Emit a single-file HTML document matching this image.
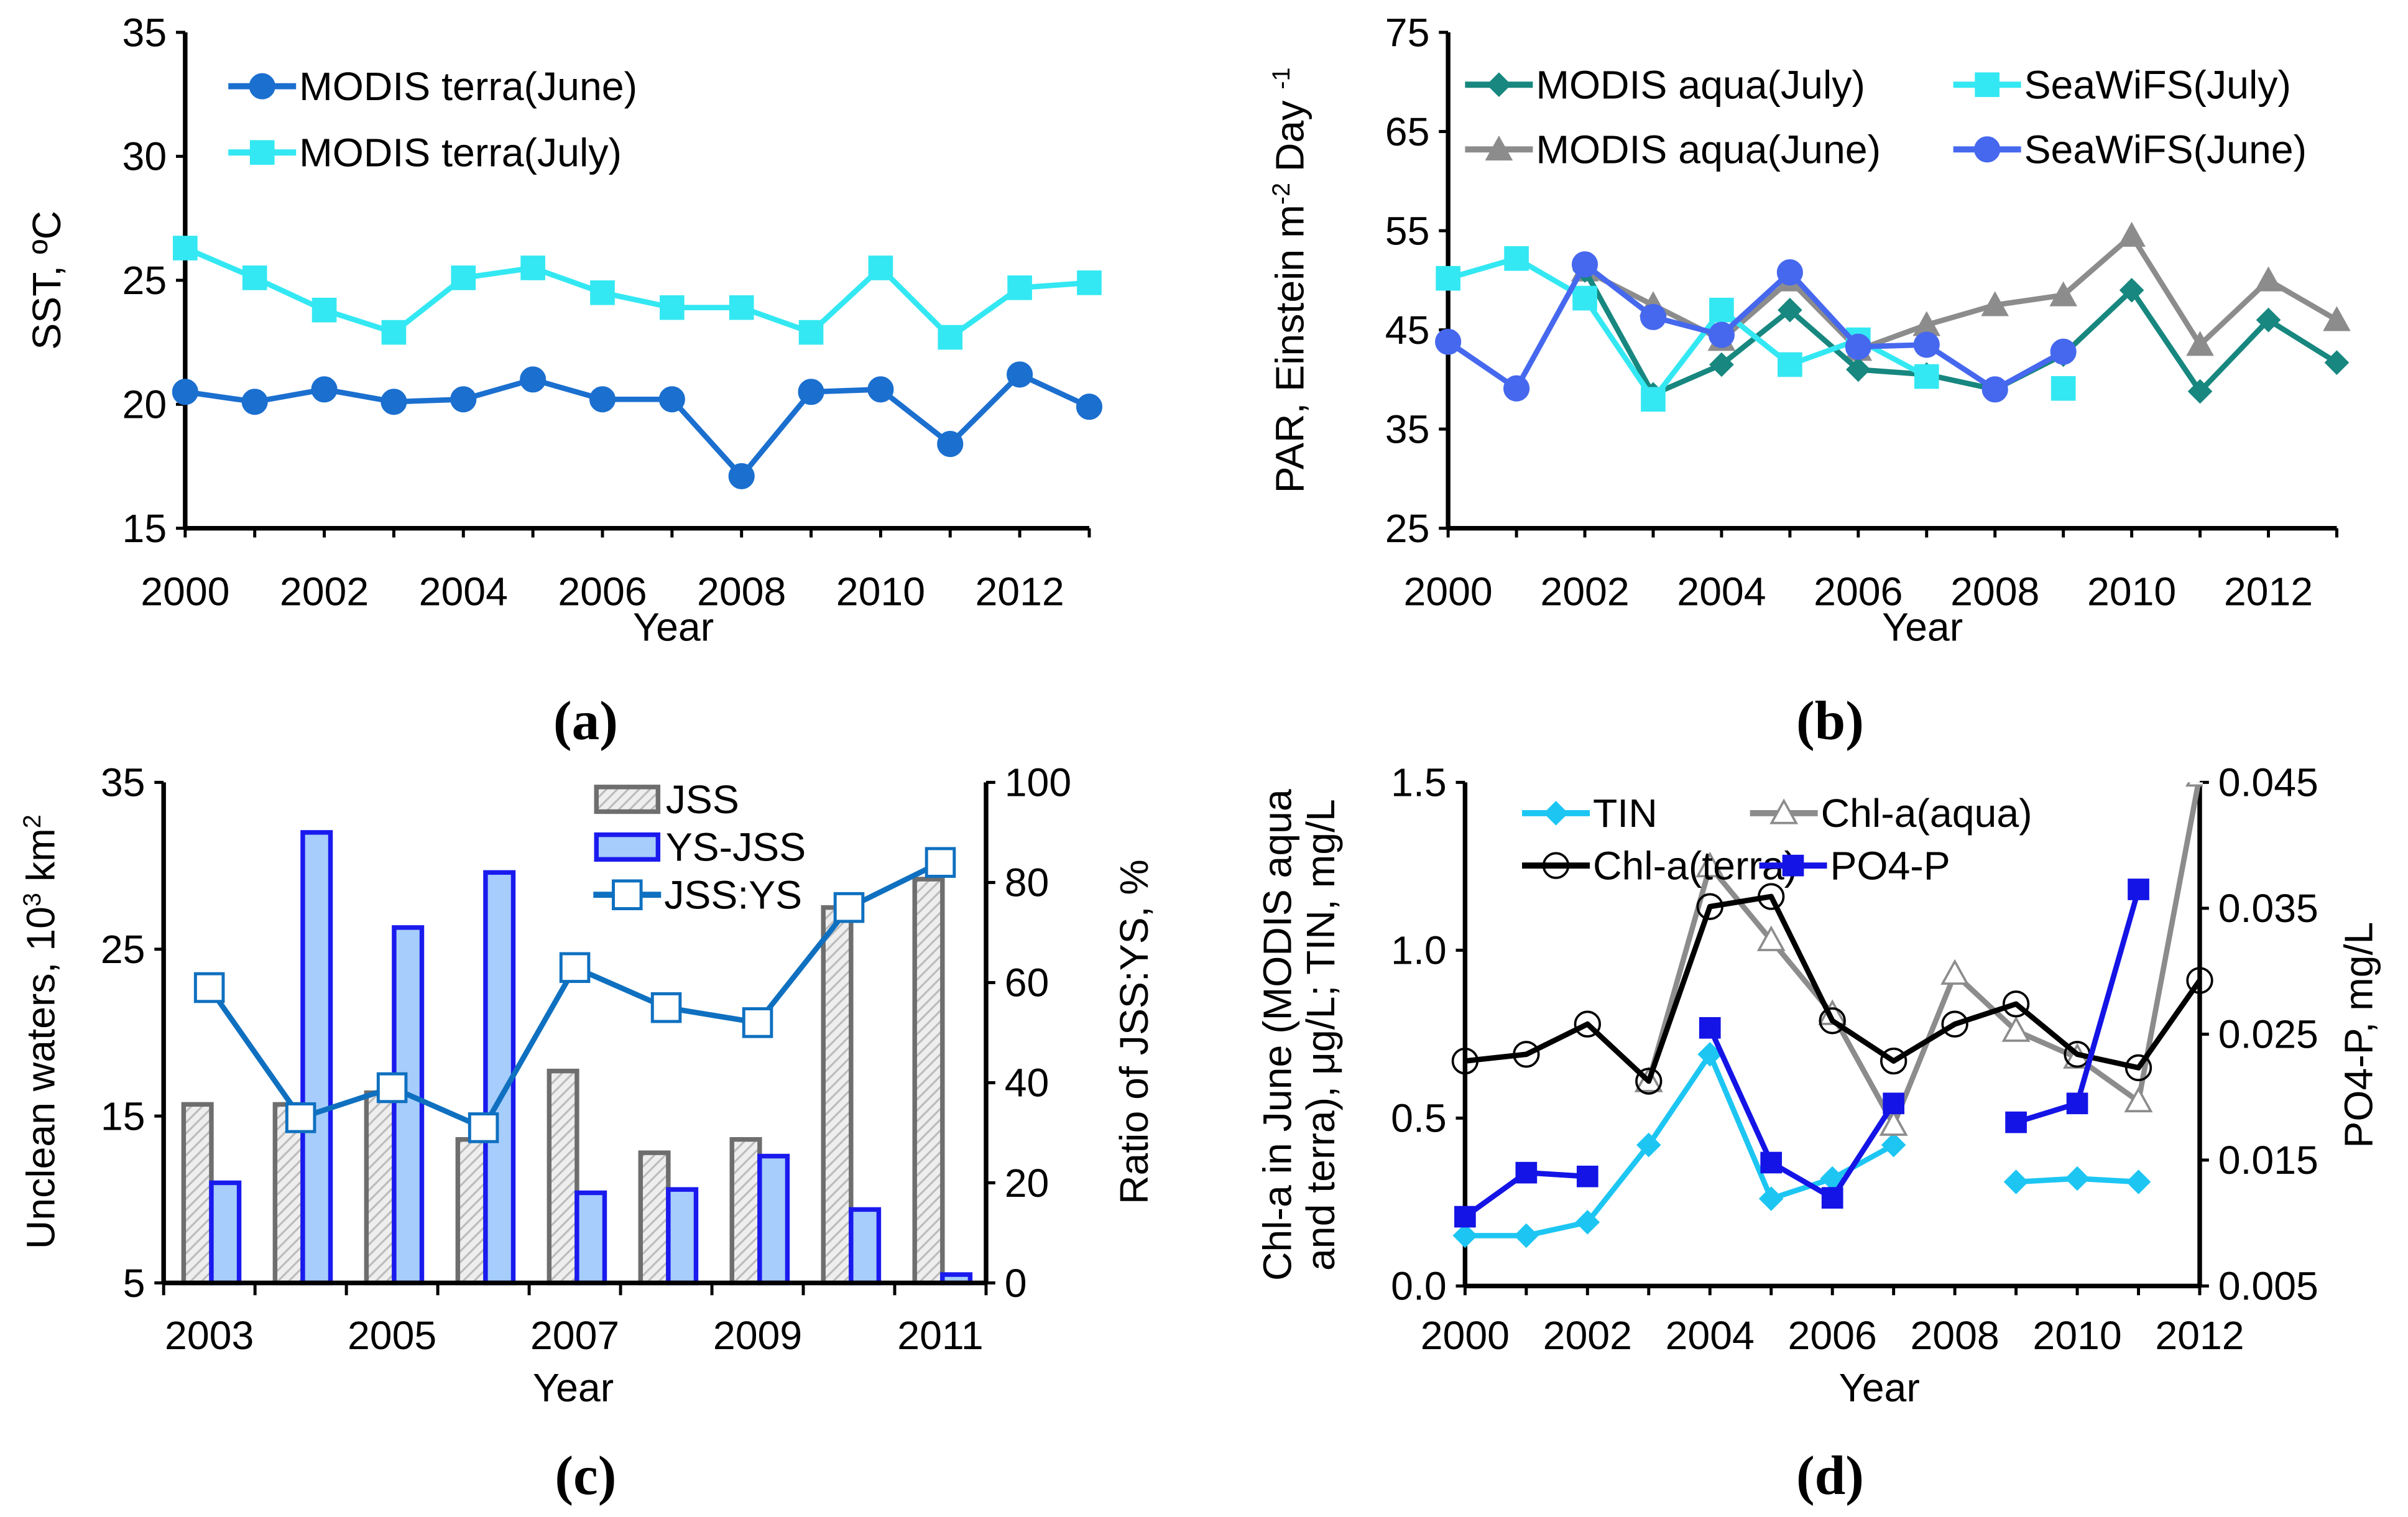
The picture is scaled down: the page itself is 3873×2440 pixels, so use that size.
<!DOCTYPE html>
<html><head><meta charset="utf-8"><style>html,body{margin:0;padding:0;background:#fff}svg{display:block}text{font-family:"Liberation Sans",sans-serif}</style></head>
<body>
<svg id="s" width="3873" height="2440" viewBox="0 0 1563 985" xmlns="http://www.w3.org/2000/svg">
<defs><pattern id="hatch" width="5" height="5" patternUnits="userSpaceOnUse" patternTransform="rotate(45)"><rect width="5" height="5" fill="#eee"/><line x1="0" y1="0" x2="0" y2="5" stroke="#bbb" stroke-width="2.5"/></pattern></defs>
</svg>
<script>
// ---- data panel a
const aYears=[2000,2001,2002,2003,2004,2005,2006,2007,2008,2009,2010,2011,2012,2013];
const sstJune=[20.5,20.1,20.6,20.1,20.2,21.0,20.2,20.2,17.1,20.5,20.6,18.4,21.2,19.9];
const sstJuly=[26.3,25.1,23.8,22.9,25.1,25.5,24.5,23.9,23.9,22.9,25.5,22.7,24.7,24.9];
const aYTicks=[15,20,25,30,35];
const xTickLabels=[2000,2002,2004,2006,2008,2010,2012];
// ---- data panel b
const parAquaJuly=[null,null,51,38.5,41.5,47,41,40.5,39,42.5,49,38.8,46,41.7];
const parAquaJune=[null,null,51,47.5,44,50,43,45.5,47.5,48.5,54.5,43.5,50,46];
const parSeaJuly=[50.2,52.2,48.2,38,47,41.5,44,40.3,null,39.1,null,null,null,null];
const parSeaJune=[43.8,39.1,51.6,46.3,44.5,50.8,43.3,43.5,39,42.8,null,null,null,null];
const bYTicks=[25,35,45,55,65,75];
// ---- data panel c
const cYears=[2003,2004,2005,2006,2007,2008,2009,2010,2011];
const jss=[15.7,15.7,16.4,13.6,17.7,12.8,13.6,27.5,29.2];
const ysjss=[11.0,32.0,26.3,29.6,10.4,10.6,12.6,9.4,5.5];
const ratio=[59,33,39,31,63,55,52,75,84];
const cYTicks=[5,15,25,35];
const cY2Ticks=[0,20,40,60,80,100];
const cXLabels=[2003,2005,2007,2009,2011];
// ---- data panel d
const dYears=[2000,2001,2002,2003,2004,2005,2006,2007,2008,2009,2010,2011,2012];
const tin=[0.15,0.15,0.19,0.42,0.69,0.26,0.32,0.42,null,0.31,0.32,0.31,null];
const chlAqua=[null,null,null,0.61,1.25,1.03,0.81,0.48,0.93,0.76,0.68,0.55,1.52];
const chlTerra=[0.67,0.69,0.78,0.61,1.13,1.16,0.79,0.67,0.78,0.84,0.69,0.65,0.91];
const po4=[0.0105,0.014,0.0137,null,0.0255,0.0148,0.012,0.0195,null,0.018,0.0195,0.0365,null];
const dYTicks=["0.0","0.5","1.0","1.5"];
const dY2Ticks=["0.005","0.015","0.025","0.035","0.045"];

const S=document.getElementById('s');const NS='http://www.w3.org/2000/svg';
const FS=26;
function mk(t,a,p){const e=document.createElementNS(NS,t);for(const k in a)e.setAttribute(k,a[k]);(p||S).appendChild(e);return e;}
function txt(x,y,s,a,name){const e=mk('text',Object.assign({x:x,y:y,'font-size':FS,fill:'#000'},a||{}));e.textContent=s;

return e;}
function plabel(x,y,s,name){const e=txt(x,y,s,{'text-anchor':'middle','font-size':36,'font-weight':'bold',style:'font-family:"Liberation Serif",serif'},name);return e;}
function grp(name){const g=mk('g',{});

return g;}
function marker(g,type,x,y,color,sz){
 let e;
 if(type==='circle')e=mk('circle',{cx:x,cy:y,r:sz,fill:color,stroke:color,'stroke-width':1},g);
 else if(type==='ocircle')e=mk('circle',{cx:x,cy:y,r:sz,fill:'none',stroke:'#000','stroke-width':1.5},g);
 else if(type==='square')e=mk('rect',{x:x-sz,y:y-sz,width:2*sz,height:2*sz,fill:color},g);
 else if(type==='osquare')e=mk('rect',{x:x-sz,y:y-sz,width:2*sz,height:2*sz,fill:'#fff',stroke:color,'stroke-width':2},g);
 else if(type==='diamond')e=mk('polygon',{points:`${x},${y-sz} ${x+sz},${y} ${x},${y+sz} ${x-sz},${y}`,fill:color},g);
 else if(type==='tri')e=mk('polygon',{points:`${x},${y-sz} ${x+sz},${y+sz*0.8} ${x-sz},${y+sz*0.8}`,fill:color},g);
 else if(type==='otri')e=mk('polygon',{points:`${x},${y-sz} ${x+sz},${y+sz*0.8} ${x-sz},${y+sz*0.8}`,fill:'#fff',stroke:color,'stroke-width':1.5},g);
 
 
}
function series(name,xs,vals,xf,yf,color,mtype,msz,lw){
 const g=grp(name);let d='',pen=false;
 vals.forEach((v,i)=>{if(v==null){pen=false;return;}d+=(pen?'L':'M')+xf(xs[i])+','+yf(v);pen=true;});
 mk('path',{d:d,fill:'none',stroke:color,'stroke-width':lw||3.5,'stroke-linejoin':'round'},g);
 vals.forEach((v,i)=>{if(v!=null)marker(g,mtype,xf(xs[i]),yf(v),color,msz);});
 return g;
}
function legend(name,x,y,s,color,mtype,msz){const g=grp(name);
 mk('line',{x1:x-22,y1:y,x2:x+22,y2:y,stroke:color,'stroke-width':4},g);marker(g,mtype,x,y,color,msz);
 const t=txt(x+24,y+9,s,{},'legend-label');g.appendChild(t);}
function axisL(name,x,y0,y1){const g=grp(name);mk('line',{x1:x,y1:y0,x2:x,y2:y1,stroke:'#000','stroke-width':3},g);return g;}

// ---------- Panel a
(function(){
 const X0=120,X1=707,Y0=343,Y1=21;
 const xf=v=>X0+(v-2000)*(X1-X0)/13, yf=v=>Y0-(v-15)*(Y0-Y1)/20;
 const ay=axisL('panel-a-y-axis',X0,Y1,Y0);
 aYTicks.forEach(t=>{mk('line',{x1:X0-6,x2:X0,y1:yf(t),y2:yf(t),stroke:'#000','stroke-width':2},ay);txt(X0-12,yf(t)+9,t,{'text-anchor':'end'},'y-tick-label');});
 const ax=grp('panel-a-x-axis');mk('line',{x1:X0,x2:X1,y1:Y0,y2:Y0,stroke:'#000','stroke-width':3},ax);
 aYears.forEach(y=>mk('line',{x1:xf(y),x2:xf(y),y1:Y0,y2:Y0+6,stroke:'#000','stroke-width':2},ax));
 xTickLabels.forEach(y=>txt(xf(y),393,y,{'text-anchor':'middle'},'x-tick-label'));
 txt(437,416,'Year',{'text-anchor':'middle'},'x-axis-title');
 txt(0,0,'SST, ºC',{'text-anchor':'middle',transform:'translate(39,182) rotate(-90)'},'y-axis-title');
 series('series-terra-july',aYears,sstJuly,xf,yf,'#33e8f2','square',8);
 series('series-terra-june',aYears,sstJune,xf,yf,'#1b6fcf','circle',8);
 legend('legend-terra-june',170,56,'MODIS terra(June)','#1b6fcf','circle',8);
 legend('legend-terra-july',170,99,'MODIS terra(July)','#33e8f2','square',8);
 plabel(380,480,'(a)','panel-label-a');
})();
// ---------- Panel b
(function(){
 const X0=940,X1=1517,Y0=343,Y1=21;
 const xf=v=>X0+(v-2000)*(X1-X0)/13, yf=v=>Y0-(v-25)*(Y0-Y1)/50;
 const ay=axisL('panel-b-y-axis',X0,Y1,Y0);
 bYTicks.forEach(t=>{mk('line',{x1:X0-6,x2:X0,y1:yf(t),y2:yf(t),stroke:'#000','stroke-width':2},ay);txt(X0-12,yf(t)+9,t,{'text-anchor':'end'},'y-tick-label');});
 const ax=grp('panel-b-x-axis');mk('line',{x1:X0,x2:X1,y1:Y0,y2:Y0,stroke:'#000','stroke-width':3},ax);
 aYears.forEach(y=>mk('line',{x1:xf(y),x2:xf(y),y1:Y0,y2:Y0+6,stroke:'#000','stroke-width':2},ax));
 xTickLabels.forEach(y=>txt(xf(y),393,y,{'text-anchor':'middle'},'x-tick-label'));
 txt(1248,416,'Year',{'text-anchor':'middle'},'x-axis-title');
 const t=txt(0,0,'',{'text-anchor':'middle',transform:'translate(846,182) rotate(-90)'},'y-axis-title');
 t.innerHTML='PAR, Einstein m<tspan dy="-9" font-size="16">-2</tspan><tspan dy="9"> Day </tspan><tspan dy="-9" font-size="16">-1</tspan>';
 series('series-aqua-june',aYears,parAquaJune,xf,yf,'#8c8c8c','tri',9);
 series('series-aqua-july',aYears,parAquaJuly,xf,yf,'#17877f','diamond',8);
 series('series-seawifs-july',aYears,parSeaJuly,xf,yf,'#33e8f2','square',8);
 series('series-seawifs-june',aYears,parSeaJune,xf,yf,'#4668ee','circle',8);
 legend('legend-aqua-july',973,55,'MODIS aqua(July)','#17877f','diamond',8);
 legend('legend-aqua-june',973,97,'MODIS aqua(June)','#8c8c8c','tri',9);
 legend('legend-seawifs-july',1290,55,'SeaWiFS(July)','#33e8f2','square',8);
 legend('legend-seawifs-june',1290,97,'SeaWiFS(June)','#4668ee','circle',8);
 plabel(1188,480,'(b)','panel-label-b');
})();
// ---------- Panel c
(function(){
 const X0=106,X1=640,Y0=833,Y1=508,bw=(X1-X0)/cYears.length;
 const yf=v=>Y0-(v-5)*(Y0-Y1)/30, y2f=v=>Y0-v*(Y0-Y1)/100, cs=i=>X0+i*bw;
 const gj=grp('series-jss'), gy=grp('series-ys-jss');
 cYears.forEach((y,i)=>{
  const r=mk('rect',{x:cs(i)+13,y:yf(jss[i]),width:18,height:Y0-yf(jss[i]),fill:'url(#hatch)',stroke:'#6e6e6e','stroke-width':3},gj);
  
  
  const b=mk('rect',{x:cs(i)+31,y:yf(ysjss[i]),width:18,height:Y0-yf(ysjss[i]),fill:'#a6cdfb',stroke:'#1a1aee','stroke-width':3},gy);
  
  
 });
 const ay=axisL('panel-c-y-axis',X0,Y1,Y0);
 cYTicks.forEach(t=>{mk('line',{x1:X0-6,x2:X0,y1:yf(t),y2:yf(t),stroke:'#000','stroke-width':2},ay);txt(X0-12,yf(t)+9,t,{'text-anchor':'end'},'y-tick-label');});
 const ay2=axisL('panel-c-y2-axis',X1,Y1,Y0);
 cY2Ticks.forEach(t=>{mk('line',{x1:X1,x2:X1+6,y1:y2f(t),y2:y2f(t),stroke:'#000','stroke-width':2},ay2);txt(X1+12,y2f(t)+9,t,{'text-anchor':'start'},'y2-tick-label');});
 const ax=grp('panel-c-x-axis');mk('line',{x1:X0,x2:X1,y1:Y0,y2:Y0,stroke:'#000','stroke-width':3},ax);
 for(let i=0;i<=cYears.length;i++)mk('line',{x1:cs(i),x2:cs(i),y1:Y0,y2:Y0+8,stroke:'#000','stroke-width':2},ax);
 cXLabels.forEach(y=>txt(cs(cYears.indexOf(y))+bw/2,876,y,{'text-anchor':'middle'},'x-tick-label'));
 txt(372,910,'Year',{'text-anchor':'middle'},'x-axis-title');
 const t=txt(0,0,'',{'text-anchor':'middle',transform:'translate(35,670) rotate(-90)'},'y-axis-title');
 t.innerHTML='Unclean waters, 10<tspan dy="-9" font-size="16">3</tspan><tspan dy="9"> km</tspan><tspan dy="-9" font-size="16">2</tspan>';
 txt(0,0,'Ratio of JSS:YS, %',{'text-anchor':'middle',transform:'translate(745,670) rotate(-90)'},'y2-axis-title');
 series('series-jss-ys-ratio',cYears,ratio,y=>cs(cYears.indexOf(y))+bw/2,y2f,'#0f70c0','osquare',9);
 const l1=grp('legend-jss');mk('rect',{x:387,y:511,width:40,height:16,fill:'url(#hatch)',stroke:'#6e6e6e','stroke-width':3},l1);l1.appendChild(txt(432,528,'JSS',{},'legend-label'));
 const l2=grp('legend-ys-jss');mk('rect',{x:387,y:542,width:40,height:16,fill:'#a6cdfb',stroke:'#1a1aee','stroke-width':3},l2);l2.appendChild(txt(432,559,'YS-JSS',{},'legend-label'));
 legend('legend-jss-ys',407,581,'JSS:YS','#0f70c0','osquare',9);
 plabel(380,970,'(c)','panel-label-c');
})();
// ---------- Panel d
(function(){
 const X0=951,X1=1428,Y0=835,Y1=508;
 const xf=v=>X0+(v-2000)*(X1-X0)/12, yf=v=>Y0-v*(Y0-Y1)/1.5, y2f=v=>Y0-(v-0.005)*(Y0-Y1)/0.04;
 const ay=axisL('panel-d-y-axis',X0,Y1,Y0);
 dYTicks.forEach(t=>{mk('line',{x1:X0-6,x2:X0,y1:yf(+t),y2:yf(+t),stroke:'#000','stroke-width':2},ay);txt(X0-12,yf(+t)+9,t,{'text-anchor':'end'},'y-tick-label');});
 const ay2=axisL('panel-d-y2-axis',X1,Y1,Y0);
 dY2Ticks.forEach(t=>{mk('line',{x1:X1,x2:X1+6,y1:y2f(+t),y2:y2f(+t),stroke:'#000','stroke-width':2},ay2);txt(X1+12,y2f(+t)+9,t,{'text-anchor':'start'},'y2-tick-label');});
 const ax=grp('panel-d-x-axis');mk('line',{x1:X0,x2:X1,y1:Y0,y2:Y0,stroke:'#000','stroke-width':3},ax);
 dYears.forEach(y=>mk('line',{x1:xf(y),x2:xf(y),y1:Y0,y2:Y0+6,stroke:'#000','stroke-width':2},ax));
 xTickLabels.forEach(y=>txt(xf(y),876,y,{'text-anchor':'middle'},'x-tick-label'));
 txt(1220,910,'Year',{'text-anchor':'middle'},'x-axis-title');
 txt(0,0,'Chl-a in June (MODIS aqua',{'text-anchor':'middle',transform:'translate(838,672) rotate(-90)'},'y-axis-title');
 txt(0,0,'and terra), μg/L; TIN, mg/L',{'text-anchor':'middle',transform:'translate(866,672) rotate(-90)'},'y-axis-title-line2');
 txt(0,0,'PO4-P, mg/L',{'text-anchor':'middle',transform:'translate(1540,672) rotate(-90)'},'y2-axis-title');
 const cl=mk('clipPath',{id:'dclip'});mk('rect',{x:X0,y:Y1,width:X1-X0+2,height:Y0-Y1},cl);
 series('series-tin',dYears,tin,xf,yf,'#1dc6f2','diamond',8);
 const ga=series('series-chl-aqua',dYears,chlAqua,xf,yf,'#8c8c8c','otri',8);
 ga.setAttribute('clip-path','url(#dclip)');
 series('series-chl-terra',dYears,chlTerra,xf,yf,'#000','ocircle',8);
 series('series-po4',dYears,po4,xf,y2f,'#1414e6','square',7);
 legend('legend-tin',1010,528,'TIN','#1dc6f2','diamond',8);
 legend('legend-chl-aqua',1158,528,'Chl-a(aqua)','#8c8c8c','otri',8);
 legend('legend-chl-terra',1010,562,'Chl-a(terra)','#000','ocircle',8);
 legend('legend-po4',1164,562,'PO4-P','#1414e6','square',7);
 plabel(1188,970,'(d)','panel-label-d');
})();
</script>
</body></html>
